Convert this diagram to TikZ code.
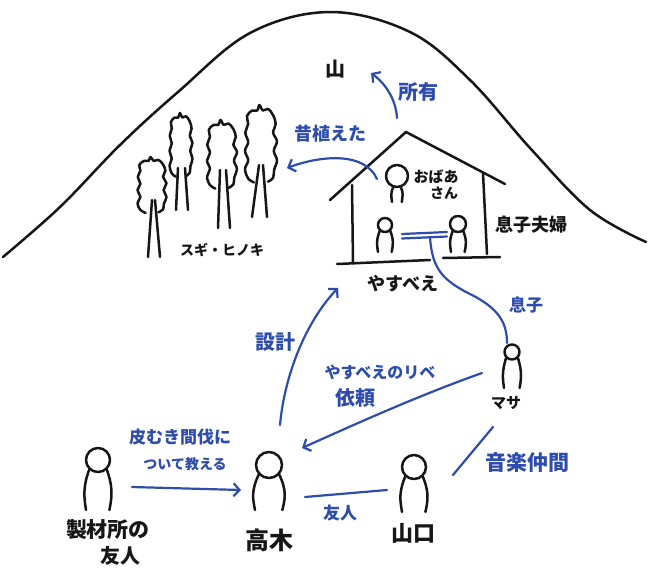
\documentclass[tikz,border=0pt]{standalone}
\usepackage{fontspec}
\newfontfamily\jp{Noto Sans CJK JP}
\usetikzlibrary{arrows.meta}
\definecolor{inkc}{HTML}{161616}
\definecolor{penc}{HTML}{2E4CAC}
\tikzset{
  ink/.style={draw=inkc, line width=2.5pt, line cap=round, line join=round},
  pen/.style={draw=penc, line width=2.2pt, line cap=round, line join=round},
  tip/.style={-{Straight Barb[length=6pt,width=13pt]}},
  lbl/.style={text=inkc, font=\jp\bfseries\fontsize{#1}{#1}\selectfont, inner sep=0pt},
  blbl/.style={text=penc, font=\jp\bfseries\fontsize{#1}{#1}\selectfont, inner sep=0pt},
  % stick figure: head radius, body length, body half-width
  pics/person/.style n args={3}{code={
    \draw[ink] (0,0) circle[radius=#1];
    \draw[ink] ({-0.7*#3},{sqrt(#1*#1-0.49*#3*#3)}) .. controls ({-1.3*#3},{0.45*(#1+#2)}) and ({-1.15*#3},{0.75*#2}) .. ({-#3},#2);
    \draw[ink] ({0.7*#3},{sqrt(#1*#1-0.49*#3*#3)}) .. controls ({1.3*#3},{0.45*(#1+#2)}) and ({1.15*#3},{0.75*#2}) .. ({0.95*#3},#2);
  }}
}
% wavy tree crown in unit box: x from -0.5 to 0.5, y from 0 (bottom) to 1 (top)
\newcommand\crownoutline{%
  \draw[ink] plot[smooth, tension=0.6] coordinates {
    (-0.22,0.02) (-0.40,0.07) (-0.50,0.19) (-0.40,0.30) (-0.50,0.42) (-0.40,0.53)
    (-0.49,0.65) (-0.40,0.76) (-0.44,0.86) (-0.28,0.93) (-0.12,0.93) (-0.05,1.0)
    (0.06,0.93) (0.22,0.95) (0.38,0.87) (0.46,0.76) (0.38,0.65) (0.50,0.54)
    (0.40,0.42) (0.50,0.30) (0.41,0.18) (0.38,0.08) (0.22,0.03)};}
\begin{document}
\begin{tikzpicture}[x=1pt, y=-1pt]
\useasboundingbox (0,0) rectangle (649,571);
\fill[white] (0,0) rectangle (649,571);

% mountain
\draw[ink] plot[smooth, tension=0.6] coordinates {
  (3,257) (60,207) (120,145) (178,92) (250,33) (330,12) (410,32)
  (470,80) (530,148) (590,210) (646,242)};
\node[lbl=20] (yama) at (335,69) {山};

% trees
\begin{scope}[shift={(152,214)}, xscale=29, yscale=-57] \crownoutline \end{scope}
\begin{scope}[shift={(181,178)}, xscale=23, yscale=-65] \crownoutline \end{scope}
\begin{scope}[shift={(222,190)}, xscale=30, yscale=-70] \crownoutline \end{scope}
\begin{scope}[shift={(261,184)}, xscale=32, yscale=-79] \crownoutline \end{scope}
\draw[ink] (152,200) -- (148,257) (155,200) -- (160,257);
\draw[ink] (178,168) -- (176,210) (185,168) -- (188,210);
\draw[ink] (220,170) -- (218,228) (226,170) -- (230,228);
\draw[ink] (259,165) -- (252,217) (263,165) -- (267,217);
\node[lbl=14] (trees) at (222,250) {スギ・ヒノキ};

% house
\draw[ink] (330,200) -- (406,132) -- (505,184);
\draw[ink] (352,185) -- (353,262);
\draw[ink] (483,173) -- (487,254);
\draw[ink] (337,264) -- (430,260);
\draw[ink] (443,258) -- (500,257);
\pic at (397,176) {person={11}{26}{5}};
\pic at (385,225) {person={7}{27}{7}};
\pic at (458,224) {person={8}{28}{7}};
\node[lbl=15] (oba1) at (436,177) {おばあ};
\node[lbl=14] (oba2) at (444,193) {さん};
\node[lbl=18] (couple) at (531,225) {息子夫婦};
\node[lbl=18] (yasubee) at (403,284) {やすべえ};
\coordinate (wifeL) at (402,234);
\coordinate (wifeR) at (447,232);
\draw[pen] (wifeL) -- (wifeR);
\draw[pen] ([yshift=-4.5pt]wifeL) -- ([yshift=-4.5pt]wifeR);

% people below
\pic at (98,460) {person={12}{50}{12}};
\pic at (269,465) {person={13}{45}{14}};
\pic at (414,467) {person={12}{45}{12}};
\pic at (512,352) {person={7.5}{36}{8}};
\node[lbl=21] (mill1) at (108,530) {製材所の};
\node[lbl=20] (mill2) at (120,556) {友人};
\node[lbl=24] (takagi) at (269,540) {高木};
\node[lbl=22] (yamaguchi) at (413,533) {山口};
\node[lbl=15] (masa) at (506,403) {マサ};

% blue relations
\coordinate (own-a) at (397,118);
\coordinate (own-b) at (371,73);
\draw[pen, tip] (own-a) .. controls (396,100) and (386,84) .. (own-b);
\node[blbl=20] (own) at (418,92) {所有};

\coordinate (plant-a) at (377,179);
\coordinate (plant-b) at (287,168);
\draw[pen, tip] (plant-a) .. controls (365,152) and (322,155) .. (plant-b);
\node[blbl=18] (plant) at (330,134) {昔植えた};

\coordinate (son-a) at (430,237);
\coordinate (son-b) at (507,343);
\draw[pen] (son-a) .. controls (432,268) and (442,280) .. (470,294)
  .. controls (498,308) and (507,322) .. (son-b);
\node[blbl=17] (son) at (526,305) {息子};

\coordinate (plan-a) at (280,425);
\coordinate (plan-b) at (338,288);
\draw[pen, tip] (plan-a) .. controls (284,380) and (303,325) .. (plan-b);
\node[blbl=20] (plan) at (275,342) {設計};

\coordinate (req-a) at (482,373);
\coordinate (req-b) at (302,448);
\draw[pen, tip] (req-a) .. controls (420,395) and (360,422) .. (req-b);
\node[blbl=16] (req1) at (380,372) {やすべえのリベ};
\node[blbl=20] (req2) at (355,398) {依頼};

\coordinate (teach-a) at (132,487);
\coordinate (teach-b) at (241,490);
\draw[pen, tip] (teach-a) -- (teach-b);
\node[blbl=17] (teach1) at (180,437) {皮むき間伐に};
\node[blbl=14] (teach2) at (185,464) {ついて教える};

\coordinate (fr-a) at (305,497);
\coordinate (fr-b) at (387,490);
\draw[pen] (fr-a) -- (fr-b);
\node[blbl=17] (friend) at (340,513) {友人};

\coordinate (mus-a) at (493,427);
\coordinate (mus-b) at (453,475);
\draw[pen] (mus-a) -- (mus-b);
\node[blbl=21] (music) at (527,463) {音楽仲間};
\end{tikzpicture}
\end{document}
